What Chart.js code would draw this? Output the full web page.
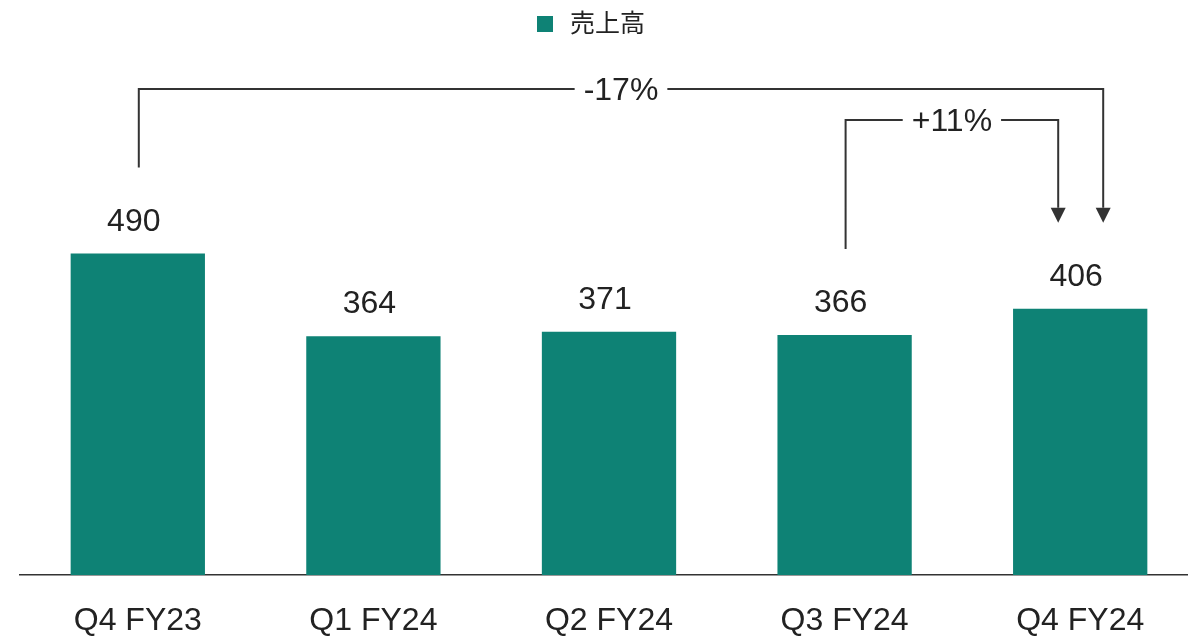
<!DOCTYPE html>
<html>
<head>
<meta charset="utf-8">
<script src="https://cdn.jsdelivr.net/npm/chart.js@4.4.1/dist/chart.umd.min.js"></script>
<style>
    html, body { margin: 0; padding: 0; background: #fff; overflow: hidden; }
    #wrap { width: 1198px; height: 667px; position: relative; }
</style>
</head>
<body>
<div id="wrap"><canvas id="salesChart"></canvas></div>
<script>
// Data
const categories = ["Q4 FY23", "Q1 FY24", "Q2 FY24", "Q3 FY24", "Q4 FY24"];
const sales = [490, 364, 371, 366, 406];
const seriesName = "売上高";
// Comparison brackets: from bar index -> to bar index
const bracketFrom = [0, 3];
const bracketTo = [4, 4];
const bracketLabels = ["-17%", "+11%"];

const FONT = '"Liberation Sans", Arial, "Noto Sans CJK JP", sans-serif';
const TEXT_COLOR = "#222222";
const LINE_COLOR = "#333333";
const BAR_COLOR = "#0E8275";

// Leyenda simple centrada arriba
const topLegendPlugin = {
    id: "topLegend",
    afterDraw(chart, args, opts) {
        const ctx = chart.ctx;
        const ds = chart.data.datasets[0];
        ctx.save();
        ctx.font = `25px ${FONT}`;
        const textW = ctx.measureText(ds.label).width;
        const total = opts.box + opts.gap + textW;
        const x0 = opts.centerX - total / 2;
        ctx.fillStyle = ds.backgroundColor;
        ctx.fillRect(x0, opts.y - opts.box / 2, opts.box, opts.box);
        ctx.fillStyle = TEXT_COLOR;
        ctx.textAlign = "left";
        ctx.textBaseline = "middle";
        ctx.fillText(ds.label, x0 + opts.box + opts.gap, opts.y + 1);
        ctx.restore();
    }
};

// Dibuja los valores encima de cada barra
const valueLabelPlugin = {
    id: "valueLabels",
    afterDatasetsDraw(chart) {
        const ctx = chart.ctx;
        const meta = chart.getDatasetMeta(0);
        ctx.save();
        ctx.font = `32px ${FONT}`;
        ctx.fillStyle = TEXT_COLOR;
        ctx.textAlign = "center";
        ctx.textBaseline = "alphabetic";
        meta.data.forEach((bar, i) => {
            ctx.fillText(String(sales[i]), bar.x - 4, bar.y - 23);
        });
        ctx.restore();
    }
};

// Dibuja los corchetes con flechas entre barras
const bracketPlugin = {
    id: "brackets",
    afterDatasetsDraw(chart, args, opts) {
        const ctx = chart.ctx;
        const xScale = chart.scales.x;
        const yScale = chart.scales.y;
        ctx.save();
        ctx.strokeStyle = LINE_COLOR;
        ctx.lineWidth = 2;
        ctx.font = `32px ${FONT}`;
        ctx.textAlign = "center";
        ctx.textBaseline = "middle";

        bracketLabels.forEach((label, i) => {
            const x1 = xScale.getPixelForValue(bracketFrom[i]) + 1;
            const x2 = xScale.getPixelForValue(bracketTo[i]) + opts.endOffsets[i];
            const yStart = yScale.getPixelForValue(sales[bracketFrom[i]]) - opts.clearance;
            const yEnd = yScale.getPixelForValue(sales[bracketTo[i]]) - opts.clearance;
            const level = opts.levels[i];
            const mid = (x1 + x2) / 2;
            const halfGap = ctx.measureText(label).width / 2 + 9;
            const ah = opts.arrowSize;

            ctx.beginPath();
            ctx.moveTo(x1, yStart);
            ctx.lineTo(x1, level);
            ctx.lineTo(mid - halfGap, level);
            ctx.moveTo(mid + halfGap, level);
            ctx.lineTo(x2, level);
            ctx.lineTo(x2, yEnd - ah);
            ctx.stroke();

            ctx.fillStyle = LINE_COLOR;
            ctx.beginPath();
            ctx.moveTo(x2 - ah / 2, yEnd - ah);
            ctx.lineTo(x2 + ah / 2, yEnd - ah);
            ctx.lineTo(x2, yEnd);
            ctx.closePath();
            ctx.fill();

            ctx.fillStyle = TEXT_COLOR;
            ctx.fillText(label, mid, level + 2);
        });
        ctx.restore();
    }
};

const ctx = document.getElementById("salesChart").getContext("2d");
new Chart(ctx, {
    type: "bar",
    data: {
        labels: categories,
        datasets: [{
            label: seriesName,
            data: sales,
            backgroundColor: BAR_COLOR,
            borderWidth: 0,
            categoryPercentage: 1,
            barPercentage: 0.57
        }]
    },
    options: {
        responsive: true,
        maintainAspectRatio: false,
        animation: false,
        layout: { padding: { left: 20, right: 0, top: 45, bottom: 0 } },
        plugins: {
            tooltip: { enabled: false },
            legend: { display: false },
            topLegend: { centerX: 591, y: 24, box: 16, gap: 17 },
            brackets: {
                levels: [89, 120],
                endOffsets: [23, -22],
                clearance: 86,
                arrowSize: 15
            }
        },
        scales: {
            x: {
                grid: { display: false, drawTicks: false },
                border: { display: true, color: LINE_COLOR, width: 1.5 },
                ticks: {
                    color: TEXT_COLOR,
                    font: { family: FONT, size: 32, lineHeight: 1 },
                    padding: 30
                }
            },
            y: {
                display: false,
                min: 0,
                max: 808
            }
        }
    },
    plugins: [valueLabelPlugin, bracketPlugin, topLegendPlugin]
});
</script>
</body>
</html>
